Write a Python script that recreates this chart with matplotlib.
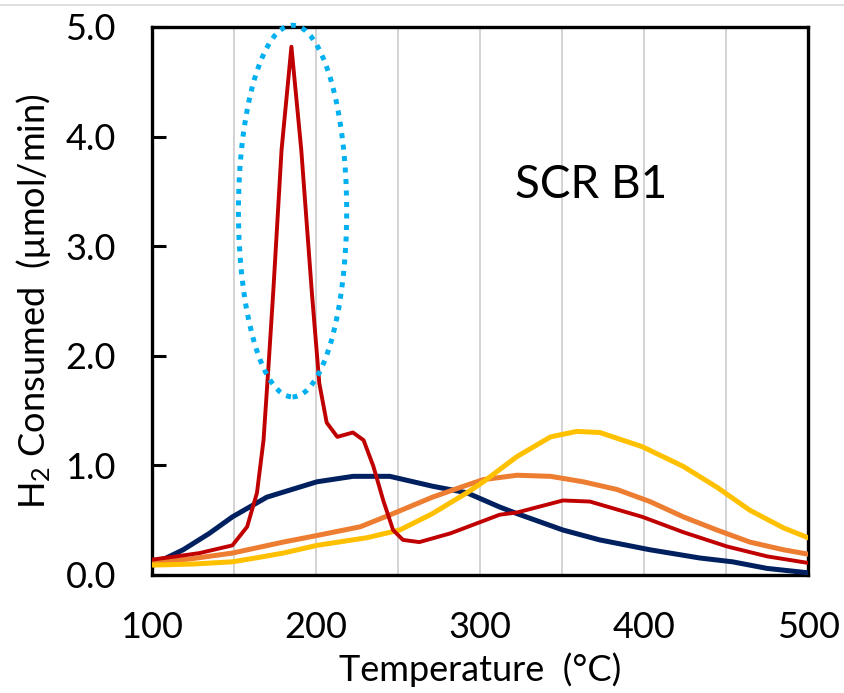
import matplotlib.pyplot as plt
from matplotlib.patches import Ellipse

plt.rcParams['font.family'] = ['Lato', 'DejaVu Sans']
plt.rcParams['mathtext.default'] = 'regular'

# values
red_t = [100, 115, 129, 149, 158, 164, 168, 171, 174, 179, 185, 191, 197.5, 202, 206.5,
         213, 222.5, 229, 235, 241, 247, 253, 263, 282, 312, 322.5, 350.6, 367,
         399, 424, 450.6, 475, 500]
red_y = [0.14, 0.17, 0.2, 0.27, 0.44, 0.75, 1.23, 1.9, 2.6, 3.88, 4.82, 3.88, 2.57, 1.75, 1.39,
         1.26, 1.3, 1.23, 0.99, 0.68, 0.41, 0.32, 0.30, 0.38, 0.55, 0.57, 0.68, 0.67,
         0.53, 0.39, 0.26, 0.17, 0.11]

navy_t = [100, 108, 119, 135, 149, 170, 200.5, 222.6, 245, 271, 292, 312, 322.5, 350.6, 373,
          403.6, 434, 454, 475, 500]
navy_y = [0.12, 0.15, 0.23, 0.38, 0.53, 0.71, 0.85, 0.90, 0.90, 0.81, 0.75, 0.62, 0.56, 0.41,
          0.32, 0.23, 0.155, 0.12, 0.06, 0.02]

orange_t = [100, 125, 149, 180, 200.5, 227, 247, 271, 292, 302, 322.5, 343, 363, 383.5,
            403.6, 424, 444.5, 464.6, 485, 500]
orange_y = [0.11, 0.15, 0.2, 0.30, 0.36, 0.44, 0.56, 0.71, 0.82, 0.87, 0.91, 0.90, 0.85, 0.78,
            0.67, 0.53, 0.41, 0.30, 0.23, 0.19]

yellow_t = [100, 125, 149, 165, 180, 200.5, 231, 251, 271, 282, 292, 302, 322.5, 343, 359, 373,
            399, 424, 444.5, 464.6, 485, 500]
yellow_y = [0.09, 0.10, 0.12, 0.16, 0.2, 0.27, 0.34, 0.41, 0.56, 0.66, 0.75, 0.85, 1.08, 1.26,
            1.31, 1.30, 1.17, 0.99, 0.80, 0.59, 0.43, 0.34]

x_ticks = [100, 200, 300, 400, 500]
y_ticks = [0.0, 1.0, 2.0, 3.0, 4.0, 5.0]
grid_x = [150, 200, 250, 300, 350, 400, 450]

fig = plt.figure(figsize=(8.44, 6.93), dpi=100)
ax = fig.add_axes([0.1801, 0.1703, 0.7773, 0.7908])

# faint line across the top of the picture
fig.add_artist(plt.Line2D([0, 1], [0.993, 0.993], color='#d9d9d9', lw=1.2))

for gx in grid_x:
    ax.axvline(gx, color='#d0d0d0', lw=1.3, zorder=0)

ax.plot(navy_t, navy_y, color='#002060', lw=3.6, zorder=3)
ax.plot(orange_t, orange_y, color='#ED7D31', lw=3.6, zorder=3)
ax.plot(yellow_t, yellow_y, color='#FFC000', lw=3.6, zorder=3)
ax.plot(red_t, red_y, color='#C00000', lw=2.8, zorder=4)

ell = Ellipse((185.7, 3.32), 66, 3.39, fill=False, edgecolor='#00B0F0', lw=3.6,
              linestyle=(0, (1, 1.3)), clip_on=False, zorder=5)
ax.add_patch(ell)

ax.text(367.5, 3.56, 'SCR B1', fontsize=33, ha='center', va='center')

ax.set_xlim(100, 500)
ax.set_ylim(0, 5.0)
ax.set_xticks(x_ticks)
ax.set_yticks(y_ticks)
ax.set_yticklabels([f'{v:.1f}' for v in y_ticks])
ax.tick_params(axis='y', direction='in', length=10, width=2.2, labelsize=26, pad=26)
ax.tick_params(axis='x', direction='in', length=0, labelsize=26, pad=26)
for s in ax.spines.values():
    s.set_linewidth(2.4)
    s.set_color('black')

ax.set_xlabel('Temperature  (°C)', fontsize=26, labelpad=6)
ax.set_ylabel('H$_2$ Consumed  (μmol/min)', fontsize=26, labelpad=9)

fig.savefig('out.png', dpi=100)
